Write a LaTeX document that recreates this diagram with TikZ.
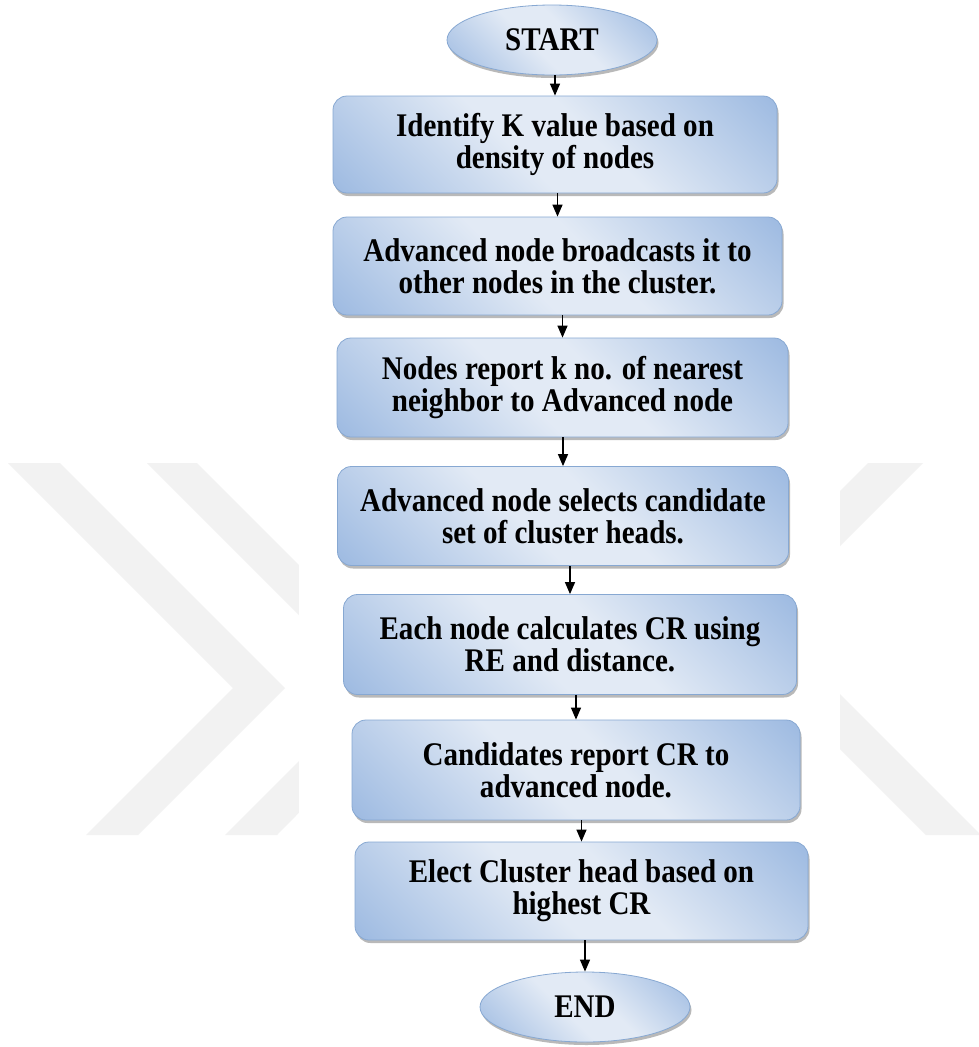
\documentclass[tikz,border=0pt]{standalone}
\usepackage{fontspec}
\newfontfamily\chartfont{Liberation Serif}[FakeStretch=0.88]
\usetikzlibrary{arrows.meta,shadows,shapes.geometric}

\definecolor{wmgray}{RGB}{242,242,242}
\definecolor{fillDark}{RGB}{160,188,226}
\definecolor{fillLight}{RGB}{226,234,245}
\definecolor{edgeBlue}{RGB}{135,168,210}

% diagonal panel gradient: blue at two corners, pale across the middle
\pgfdeclarehorizontalshading{panelshade}{100bp}{%
  color(0bp)=(fillDark); color(16bp)=(fillDark); color(44bp)=(fillLight);
  color(56bp)=(fillLight); color(84bp)=(fillDark); color(100bp)=(fillDark)}

\tikzset{
  blueshade/.style={shading=panelshade, shading angle=45},
  softshadow/.style={drop shadow={shadow xshift=1.5pt, shadow yshift=-3pt,
    fill=black!50, opacity=0.55}},
  chartlabel/.style={font=\chartfont\bfseries\fontsize{33}{32}\selectfont},
  stepbox/.style={rectangle, rounded corners=14pt, blueshade, softshadow,
    draw=edgeBlue, line width=0.8pt, align=center, chartlabel, inner sep=0pt},
  terminal/.style={ellipse, blueshade, softshadow, draw=edgeBlue,
    line width=0.8pt, minimum width=210pt, minimum height=70pt,
    chartlabel, inner sep=0pt},
  flow/.style={line width=1.3pt, -{Triangle[width=10pt,length=12pt]}}
}

\begin{document}
\begin{tikzpicture}[x=1pt,y=-1pt]
\useasboundingbox (0,0) rectangle (979,1047);
\fill[white] (0,0) rectangle (979,1047);

% faint chevron watermark behind the chart
\begin{scope}
  \clip (0,0) rectangle (979,1047);
  \fill[wmgray] (8,463) -- (60,463) -- (285,688) -- (138,835) -- (86,835) -- (233,688) -- cycle;
  \fill[wmgray] (147,463) -- (197,463) -- (422,688) -- (277,835) -- (225,835) -- (372,688) -- cycle;
  \fill[wmgray] (868,463) -- (923,463) -- (766,620) -- (981,835) -- (926,835) -- (711,620) -- cycle;
  \fill[white] (299,455) rectangle (840,845);
\end{scope}

% flow steps
\node[terminal] (start) at (552,40) {START};
\node[stepbox, minimum width=444pt, minimum height=97pt] (s1) at (555,144.5)
  {Identify K value based on\\density of nodes};
\node[stepbox, minimum width=449pt, minimum height=98pt] (s2) at (557.5,266)
  {Advanced node broadcasts it to\\other nodes in the cluster.};
\node[stepbox, minimum width=451pt, minimum height=99pt] (s3) at (562.5,387.5)
  {Nodes report k no. of nearest\\neighbor to Advanced node};
\node[stepbox, minimum width=451pt, minimum height=99pt] (s4) at (563,516)
  {Advanced node selects candidate\\set of cluster heads.};
\node[stepbox, minimum width=453pt, minimum height=100pt] (s5) at (570,644.5)
  {Each node calculates CR using\\RE and distance.};
\node[stepbox, minimum width=448pt, minimum height=100pt] (s6) at (576,770)
  {Candidates report CR to\\advanced node.};
\node[stepbox, minimum width=453pt, minimum height=98pt] (s7) at (581.5,891)
  {Elect Cluster head based on\\highest CR};
\node[terminal] (finish) at (585,1007) {END};

% connectors
\draw[flow] (s1.north |- start.south) -- (s1.north);
\draw[flow] (s2.north |- s1.south) -- (s2.north);
\draw[flow] (s3.north |- s2.south) -- (s3.north);
\draw[flow] (s4.north |- s3.south) -- (s4.north);
\draw[flow] (s5.north |- s4.south) -- (s5.north);
\draw[flow] (s6.north |- s5.south) -- (s6.north);
\draw[flow] (s7.north |- s6.south) -- (s7.north);
\draw[flow] (finish.north |- s7.south) -- (finish.north);
\end{tikzpicture}
\end{document}
